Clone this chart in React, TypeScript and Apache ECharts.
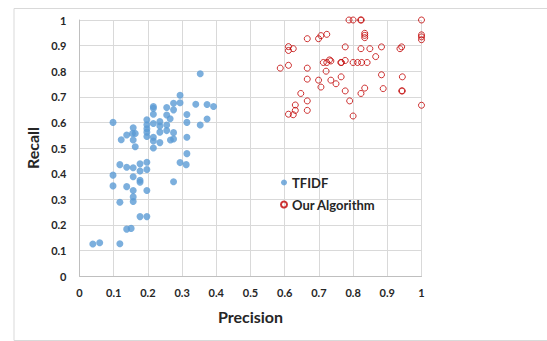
import React, { useEffect, useRef } from "react";
import * as echarts from "echarts";

const seriesNames = ["TFIDF", "Our Algorithm"];

const tfidfPoints: [number, number][] = [
  [0.039, 0.125], [0.059, 0.13], [0.118, 0.126], [0.138, 0.183], [0.151, 0.186],
  [0.177, 0.232], [0.197, 0.232], [0.118, 0.288], [0.157, 0.291], [0.157, 0.309],
  [0.157, 0.334], [0.138, 0.349], [0.098, 0.352], [0.177, 0.366], [0.177, 0.374],
  [0.197, 0.334], [0.275, 0.368], [0.098, 0.394], [0.157, 0.388], [0.177, 0.41],
  [0.197, 0.416], [0.197, 0.444], [0.177, 0.438], [0.157, 0.423], [0.138, 0.425],
  [0.118, 0.435], [0.294, 0.443], [0.312, 0.435], [0.314, 0.478], [0.163, 0.505],
  [0.216, 0.5], [0.235, 0.521], [0.122, 0.532], [0.157, 0.531], [0.216, 0.527],
  [0.216, 0.542], [0.197, 0.545], [0.138, 0.551], [0.155, 0.557], [0.163, 0.557],
  [0.266, 0.531], [0.275, 0.535], [0.314, 0.542], [0.275, 0.56], [0.235, 0.562],
  [0.255, 0.568], [0.197, 0.562], [0.197, 0.575], [0.157, 0.579], [0.197, 0.591],
  [0.216, 0.596], [0.235, 0.586], [0.235, 0.603], [0.255, 0.59], [0.197, 0.61],
  [0.098, 0.6], [0.353, 0.59], [0.314, 0.6], [0.373, 0.613], [0.265, 0.614],
  [0.255, 0.629], [0.216, 0.632], [0.314, 0.631], [0.275, 0.649], [0.216, 0.655],
  [0.216, 0.662], [0.255, 0.658], [0.275, 0.675], [0.294, 0.677], [0.34, 0.671],
  [0.373, 0.67], [0.392, 0.662], [0.294, 0.706], [0.353, 0.79],
];

const ourPoints: [number, number][] = [
  [0.587, 0.812], [0.611, 0.823], [0.611, 0.896], [0.611, 0.881], [0.625, 0.888],
  [0.666, 0.927], [0.666, 0.812], [0.666, 0.769], [0.666, 0.684], [0.666, 0.647],
  [0.647, 0.713], [0.631, 0.668], [0.631, 0.647], [0.611, 0.632], [0.625, 0.63],
  [0.699, 0.927], [0.706, 0.939], [0.723, 0.944], [0.713, 0.834], [0.723, 0.834],
  [0.731, 0.844], [0.735, 0.84], [0.721, 0.8], [0.699, 0.765], [0.706, 0.738],
  [0.735, 0.765], [0.75, 0.751], [0.764, 0.834], [0.766, 0.834], [0.777, 0.842],
  [0.765, 0.778], [0.777, 0.895], [0.777, 0.723], [0.79, 0.684], [0.8, 0.625],
  [0.788, 1.0], [0.8, 1.0], [0.822, 1.0], [0.824, 1.0], [0.834, 0.948],
  [0.834, 0.94], [0.834, 0.931], [0.823, 0.888], [0.849, 0.888], [0.8, 0.834],
  [0.813, 0.834], [0.825, 0.834], [0.841, 0.834], [0.866, 0.857], [0.883, 0.895],
  [0.883, 0.786], [0.834, 0.734], [0.823, 0.713], [0.888, 0.732], [0.937, 0.888],
  [0.942, 0.895], [0.944, 0.778], [0.942, 0.723], [0.944, 0.723], [1.0, 1.0],
  [1.0, 0.942], [1.0, 0.934], [1.0, 0.923], [1.0, 0.667],
];

const FONT = "Lato";

export default function App() {
  const ref = useRef<HTMLDivElement>(null);
  useEffect(() => {
    if (!ref.current) return;
    const chart = echarts.init(ref.current, undefined, { renderer: "svg" });
    const axisLabel = { color: "#262626", fontFamily: FONT, fontWeight: "bold" as const, fontSize: 11 };
    const splitLine = { show: true, lineStyle: { color: "#d9d9d9", width: 1 } };
    chart.setOption({
      animation: false,
      backgroundColor: "#ffffff",
      graphic: [
        {
          type: "rect",
          left: 11.5,
          top: 6,
          shape: { width: 560, height: 332 },
          style: { fill: "none", stroke: "#d9d9d9", lineWidth: 1 },
          silent: true,
        },
      ],
      grid: { left: 79.5, top: 20, width: 342, height: 256, containLabel: false },
      legend: {
        orient: "vertical",
        left: 275,
        top: 171,
        itemWidth: 6,
        itemHeight: 6,
        itemGap: 9,
        icon: "circle",
        textStyle: { color: "#262626", fontFamily: FONT, fontWeight: "bold", fontSize: 13 },
        data: seriesNames,
      },
      xAxis: {
        type: "value",
        min: 0,
        max: 1,
        interval: 0.1,
        name: "Precision",
        nameLocation: "middle",
        nameGap: 32,
        nameTextStyle: { color: "#262626", fontFamily: FONT, fontWeight: "bold", fontSize: 16 },
        axisLine: { show: true, lineStyle: { color: "#bfbfbf" } },
        axisTick: { show: false },
        axisLabel: { ...axisLabel, margin: 11 },
        splitLine,
      },
      yAxis: {
        type: "value",
        min: 0,
        max: 1,
        interval: 0.1,
        name: "Recall",
        nameLocation: "middle",
        nameRotate: 90,
        nameGap: 34,
        nameTextStyle: { color: "#262626", fontFamily: FONT, fontWeight: "bold", fontSize: 16 },
        axisLine: { show: true, lineStyle: { color: "#bfbfbf" } },
        axisTick: { show: false },
        axisLabel: { ...axisLabel, margin: 13 },
        splitLine,
      },
      series: [
        {
          name: seriesNames[0],
          type: "scatter",
          symbol: "circle",
          symbolSize: 7,
          itemStyle: { color: "#5B9BD5" },
          data: tfidfPoints,
        },
        {
          name: seriesNames[1],
          type: "scatter",
          symbol: "circle",
          symbolSize: 6,
          itemStyle: { color: "rgba(255,255,255,0)", borderColor: "#C00000", borderWidth: 1 },
          data: ourPoints,
        },
      ],
    });
    return () => chart.dispose();
  }, []);
  return (
    <div
      ref={ref}
      style={{ position: "fixed", left: 0, top: 0, width: 547, height: 341 }}
    />
  );
}
